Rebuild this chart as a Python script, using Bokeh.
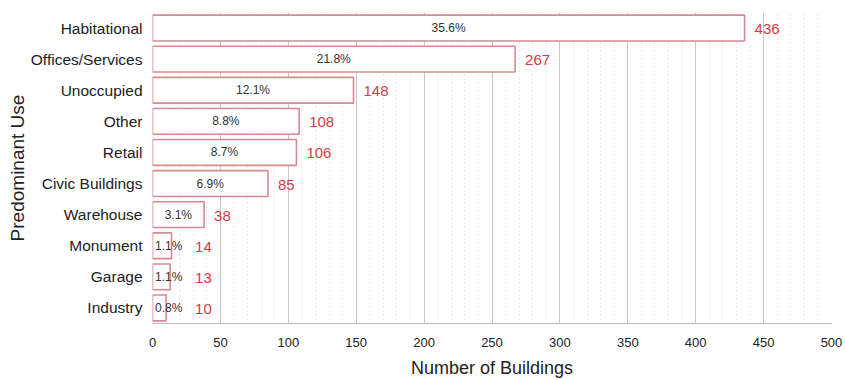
from bokeh.plotting import figure
from bokeh.models import ColumnDataSource, FactorRange, SingleIntervalTicker, LabelSet
from bokeh.embed import file_html
from bokeh.resources import INLINE
from bokeh.core.properties import value

categories = ["Habitational", "Offices/Services", "Unoccupied", "Other", "Retail",
              "Civic Buildings", "Warehouse", "Monument", "Garage", "Industry"]
counts = [436, 267, 148, 108, 106, 85, 38, 14, 13, 10]
percents = ["35.6%", "21.8%", "12.1%", "8.8%", "8.7%", "6.9%", "3.1%", "1.1%", "1.1%", "0.8%"]
count_labels = [str(c) for c in counts]

FONT = "Liberation Sans"

src = ColumnDataSource(dict(
    cat=categories,
    count=counts,
    pct=percents,
    cnt=count_labels,
    pct_x=[max(c / 2, 12) for c in counts],
    cnt_x=[max(c, 24) for c in counts],
))

p = figure(width=845, height=380, output_backend="svg", toolbar_location=None,
           y_range=FactorRange(*list(reversed(categories)), range_padding=0),
           x_range=(0, 500),
           min_border_left=152, min_border_right=14, min_border_top=12, min_border_bottom=54)
p.outline_line_color = None
p.background_fill_color = "white"

p.hbar(y="cat", right="count", left=0, height=0.83, source=src,
       fill_color="white", line_color="#d98a90", line_width=1.6)

pct_labels = LabelSet(x="pct_x", y="cat", text="pct", source=src, text_align="center",
                      text_baseline="middle", text_font=value(FONT), text_font_size="12px",
                      text_color="#333333")
cnt_labels = LabelSet(x="cnt_x", y="cat", text="cnt", source=src, text_align="left",
                      text_baseline="middle", x_offset=10, y_offset=-1, text_font=value(FONT),
                      text_font_size="15px", text_color="#d93a45")
p.add_layout(pct_labels)
p.add_layout(cnt_labels)

p.xaxis.ticker = SingleIntervalTicker(interval=50, num_minor_ticks=5)
p.xgrid.ticker = p.xaxis.ticker
p.xgrid.grid_line_color = "#c8c8c8"
p.xgrid.minor_grid_line_color = "#d8d8d8"
p.xgrid.minor_grid_line_dash = "1 3"
p.ygrid.grid_line_color = None

p.xaxis.axis_label = "Number of Buildings"
p.yaxis.axis_label = "Predominant Use"
for ax in (p.xaxis, p.yaxis):
    ax.axis_label_text_font = FONT
    ax.axis_label_text_font_style = "normal"
    ax.axis_label_text_color = "#222222"
    ax.major_label_text_font = FONT
    ax.major_label_text_color = "#222222"
    ax.major_tick_line_color = None
    ax.minor_tick_line_color = None
p.xaxis.axis_label_text_font_size = "18px"
p.yaxis.axis_label_text_font_size = "19px"
p.xaxis.major_label_text_font_size = "13px"
p.yaxis.major_label_text_font_size = "15.5px"
p.xaxis.axis_line_color = "#bbbbbb"
p.yaxis.axis_line_color = None
p.xaxis.major_label_standoff = 8
p.xaxis.axis_label_standoff = 8
p.yaxis.major_label_standoff = 4
p.yaxis.axis_label_standoff = 0

open("out.html", "w").write(file_html(p, INLINE))
